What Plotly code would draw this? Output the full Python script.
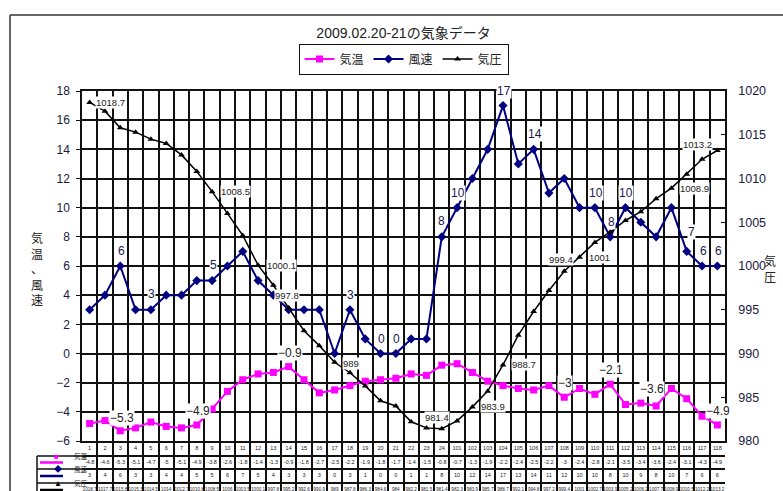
import plotly.graph_objects as go

# ---------------- data ----------------
categories = ["1", "2", "3", "4", "5", "6", "7", "8", "9", "10", "11", "12",
              "13", "14", "15", "16", "17", "18", "19", "20", "21", "22", "23", "24",
              "101", "102", "103", "104", "105", "106", "107", "108", "109",
              "110", "111", "112", "113", "114", "115", "116", "117", "118"]

temperature = [-4.8, -4.6, -5.3, -5.1, -4.7, -5.0, -5.1, -4.9, -3.8, -2.6, -1.8, -1.4,
               -1.3, -0.9, -1.8, -2.7, -2.5, -2.2, -1.9, -1.8, -1.7, -1.4, -1.5, -0.8,
               -0.7, -1.3, -1.9, -2.2, -2.4, -2.5, -2.2, -3.0, -2.4,
               -2.8, -2.1, -3.5, -3.4, -3.6, -2.4, -3.1, -4.3, -4.9]

wind_speed = [3, 4, 6, 3, 3, 4, 4, 5, 5, 6, 7, 5,
              4, 3, 3, 3, 0, 3, 1, 0, 0, 1, 1, 8,
              10, 12, 14, 17, 13, 14, 11, 12, 10,
              10, 8, 10, 9, 8, 10, 7, 6, 6]

pressure = [1018.7, 1017.7, 1015.8, 1015.3, 1014.5, 1014.0, 1012.7, 1010.8, 1008.5, 1006.0, 1003.5, 1000.1,
            997.8, 995.2, 992.6, 990.9, 989.0, 987.8, 986.3, 984.6, 984.0, 982.2, 981.5, 981.4,
            982.3, 983.9, 985.7, 988.7, 992.1, 994.8, 997.2, 999.4, 1001.0,
            1002.7, 1003.9, 1005.2, 1006.2, 1007.7, 1008.9, 1010.5, 1012.2, 1013.2]

series_names = ["気温", "風速", "気圧"]
title_text = "2009.02.20-21の気象データ"

temp_labeled = ["3", "8", "14", "108", "111", "114", "118"]
wind_labeled = ["3", "5", "9", "18", "20", "21", "24", "101", "104", "106",
                "110", "111", "112", "116", "117", "118"]
press_labeled = ["1", "9", "12", "13", "17", "24", "102", "104", "108", "109", "115", "118"]

# ---------------- styles / layout constants ----------------
W, H = 783, 491
PL, PR = 82, 725          # plot area left/right (px)
PT, PB = 91, 441          # main plot top/bottom (px)
C_T, C_W, C_P = "#FF00FF", "#000080", "#000000"
GRID = "#111111"
LATIN = "Liberation Sans, Noto Sans CJK JP"
CJK = "Noto Sans CJK JP"

def px_x(x):
    return (x - PL) / (PR - PL)

def px_y(y):
    return (H - y) / H

def fmt(v):
    return f"{v:g}"

def fmt_label(v):
    return fmt(v).replace("-", "\u2212")

fig = go.Figure()

# main series
fig.add_trace(go.Scatter(x=categories, y=temperature, name=series_names[0], mode="lines+markers",
                         line=dict(color=C_T, width=2),
                         marker=dict(symbol="square", size=7, color=C_T),
                         xaxis="x", yaxis="y"))
fig.add_trace(go.Scatter(x=categories, y=wind_speed, name=series_names[1], mode="lines+markers",
                         line=dict(color=C_W, width=2),
                         marker=dict(symbol="diamond", size=7, color=C_W),
                         xaxis="x", yaxis="y"))
fig.add_trace(go.Scatter(x=categories, y=pressure, name=series_names[2], mode="lines+markers",
                         line=dict(color=C_P, width=1.5),
                         marker=dict(symbol="triangle-up", size=6, color=C_P),
                         xaxis="x", yaxis="y2"))

# data table (below plot)
ROW_Y = [7.5, 21.5, 35, 49]
ROW_FS = [5.5, 5.5, 5.5, 4.6]
table_rows = [categories,
              [fmt(v) for v in temperature],
              [fmt(v) for v in wind_speed],
              [fmt(v) for v in pressure]]
for texts, yc, fs in zip(table_rows, ROW_Y, ROW_FS):
    fig.add_trace(go.Scatter(x=categories, y=[yc] * len(categories), text=texts, mode="text",
                             textfont=dict(size=fs, color="#222", family=LATIN),
                             xaxis="x2", yaxis="y3", showlegend=False, hoverinfo="skip",
                             cliponaxis=False))

annotations = []

# data labels
temp_off = {"3": (2, 13), "114": (-4, 17)}
for c in temp_labeled:
    i = categories.index(c)
    dx, dy = temp_off.get(c, (1, 14))
    annotations.append(dict(x=i, y=temperature[i], xref="x", yref="y", text=fmt_label(temperature[i]),
                            showarrow=False, xshift=dx, yshift=dy, bgcolor="white", borderpad=0,
                            font=dict(size=12, color="#222", family=LATIN)))

wind_off = {"116": (5, 19), "5": (1, 16), "9": (1, 16), "24": (0, 16)}
for c in wind_labeled:
    i = categories.index(c)
    dx, dy = wind_off.get(c, (1, 15))
    annotations.append(dict(x=i, y=wind_speed[i], xref="x", yref="y", text=fmt(wind_speed[i]),
                            showarrow=False, xshift=dx, yshift=dy, bgcolor="white", borderpad=0,
                            font=dict(size=12, color="#1a1a50", family=LATIN)))

press_off = {"1": ("left", 5, 0), "9": ("left", 8, 0), "12": ("left", 8, 0),
             "13": ("left", 1, -10), "17": ("left", 7, -1), "24": ("center", -5, 11),
             "102": ("left", 8, 0), "104": ("left", 8, 0), "108": ("center", -3, 12),
             "109": ("left", 8, 0), "115": ("left", 8, 0), "118": ("right", -4, 6)}
for c in press_labeled:
    i = categories.index(c)
    anc, dx, dy = press_off[c]
    annotations.append(dict(x=i, y=pressure[i], xref="x", yref="y2", text=fmt(pressure[i]),
                            showarrow=False, xanchor=anc, xshift=dx, yshift=dy, bgcolor="white",
                            borderpad=0, font=dict(size=9.5, color="#222", family=LATIN)))

# axis titles (stacked vertical Japanese)
annotations.append(dict(x=px_x(29), y=px_y(268), xref="paper", yref="paper",
                        text="気<br>温<br>、<br>風<br>速", showarrow=False,
                        font=dict(size=12, color="#222", family=CJK)))
annotations.append(dict(x=px_x(778), y=px_y(268), xref="paper", yref="paper",
                        text="気<br>圧", showarrow=False,
                        font=dict(size=12, color="#222", family=CJK)))

shapes = []
# outer chart frame
shapes.append(dict(type="line", xref="paper", yref="paper", x0=px_x(10), x1=px_x(800),
                   y0=px_y(15), y1=px_y(15), line=dict(color="#333", width=1.5)))
shapes.append(dict(type="line", xref="paper", yref="paper", x0=px_x(10), x1=px_x(10),
                   y0=px_y(15), y1=px_y(500), line=dict(color="#333", width=1.5)))

# table key column
KEY_L = 37
row_lines = [456, 469, 483]
for yy in row_lines:
    shapes.append(dict(type="line", xref="paper", yref="paper", x0=px_x(KEY_L), x1=px_x(PL),
                       y0=px_y(yy), y1=px_y(yy), line=dict(color=GRID, width=1.5)))
shapes.append(dict(type="line", xref="paper", yref="paper", x0=px_x(KEY_L), x1=px_x(KEY_L),
                   y0=px_y(456), y1=px_y(500), line=dict(color=GRID, width=1.5)))
key_rows = [462.5, 476, 490]
key_syms = ["■", "◆", "▲"]
key_cols = [C_T, C_W, C_P]
for yc, name, sym, col in zip(key_rows, series_names, key_syms, key_cols):
    shapes.append(dict(type="line", xref="paper", yref="paper", x0=px_x(40), x1=px_x(63),
                       y0=px_y(yc), y1=px_y(yc), line=dict(color=col, width=2.5)))
    annotations.append(dict(x=px_x(51.5), y=px_y(yc), xref="paper", yref="paper", text=sym,
                            showarrow=False, font=dict(size=8, color=col, family=LATIN)))
    annotations.append(dict(x=px_x(72), y=px_y(yc), xref="paper", yref="paper", text=name,
                            showarrow=False, font=dict(size=6.5, color="#222", family=CJK)))

fig.update_layout(
    width=W, height=H,
    margin=dict(l=PL, r=W - PR, t=0, b=0, autoexpand=False),
    paper_bgcolor="white", plot_bgcolor="white",
    font=dict(family=LATIN, size=12, color="#222"),
    title=dict(text=title_text, x=0.5, xref="paper", xanchor="center",
               y=1 - 33 / H, yref="container", yanchor="middle",
               font=dict(size=14, color="#222", family=LATIN)),
    showlegend=True,
    legend=dict(orientation="h", x=0.5, xanchor="center", xref="paper",
                y=px_y(59), yanchor="middle", yref="paper",
                bordercolor="#111", borderwidth=1, bgcolor="white",
                font=dict(size=12, color="#222", family=CJK), itemwidth=30),
    xaxis=dict(domain=[0, 1], anchor="y", type="category", categoryorder="array",
               categoryarray=categories, range=[-0.5, len(categories) - 0.5],
               tickson="boundaries", showgrid=True, gridcolor=GRID, gridwidth=1.5,
               showticklabels=False, ticks="", showline=True, linecolor=GRID, linewidth=1.5,
               mirror=True, zeroline=False, automargin=False),
    yaxis=dict(domain=[px_y(PB), px_y(PT)], anchor="x", range=[-6, 18], dtick=2, tick0=0,
               showgrid=True, gridcolor=GRID, gridwidth=1.5, zeroline=False,
               ticks="outside", ticklen=4, tickcolor=GRID, showline=True, linecolor=GRID,
               linewidth=1.5, ticklabelstandoff=4, automargin=False,
               tickfont=dict(size=12, color="#1a1a40", family=LATIN)),
    yaxis2=dict(overlaying="y", anchor="x", side="right", range=[980, 1020], dtick=5,
                showgrid=False, zeroline=False, ticks="inside", ticklen=4, tickcolor=GRID,
                showline=True, linecolor=GRID, linewidth=1.5, ticklabelstandoff=9,
                automargin=False,
                tickfont=dict(size=12.5, color="#1a1a40", family=LATIN)),
    xaxis2=dict(domain=[0, 1], anchor="y3", matches="x", type="category",
                tickson="boundaries", showgrid=True, gridcolor=GRID, gridwidth=1.5,
                showticklabels=False, ticks="", zeroline=False, showline=False,
                automargin=False),
    yaxis3=dict(domain=[0, px_y(PB)], anchor="x2", range=[50, 0], tickvals=[15, 28, 42],
                showgrid=True, gridcolor=GRID, gridwidth=1.5, showticklabels=False,
                ticks="", zeroline=False, showline=False, automargin=False),
    annotations=annotations,
    shapes=shapes,
)

fig.write_html("out.html")
